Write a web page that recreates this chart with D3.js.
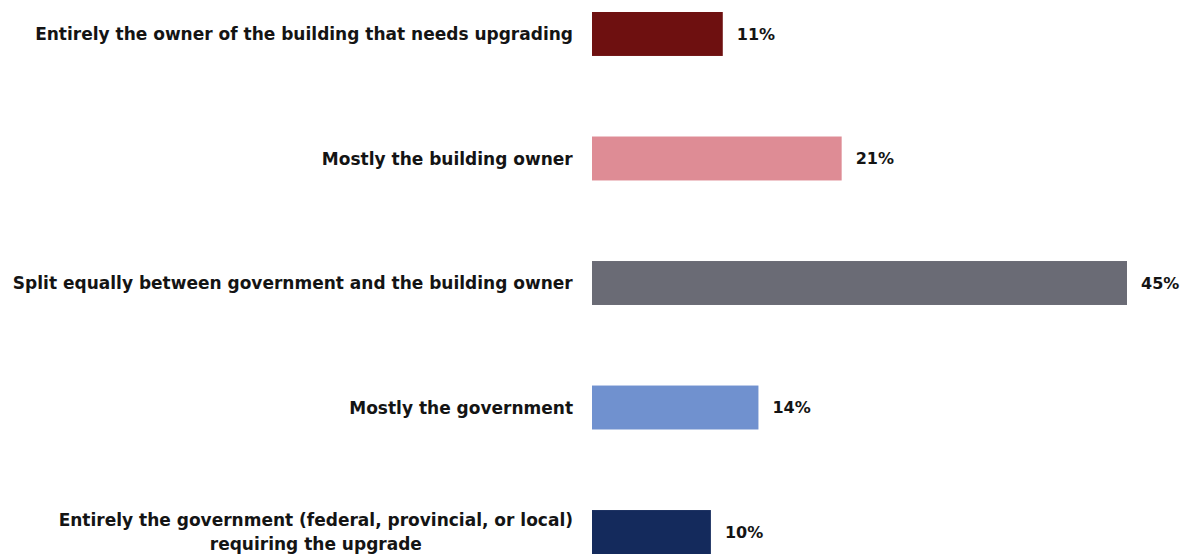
<!DOCTYPE html>
<html>
<head>
<meta charset="utf-8">
<script src="https://cdn.jsdelivr.net/npm/d3@7"></script>
<style>
  html, body { margin: 0; padding: 0; background: #ffffff; }
  svg { display: block; }
  .cat { font-family: "DejaVu Sans", sans-serif; font-weight: 700; fill: #141414; }
  .val { font-family: "DejaVu Sans", sans-serif; font-weight: 700; fill: #141414; }
</style>
</head>
<body>
<svg id="chart" width="1189" height="559"></svg>
<script>
// Who should pay for the building upgrade — share of responses
const categories = [
  ["Entirely the owner of the building that needs upgrading"],
  ["Mostly the building owner"],
  ["Split equally between government and the building owner"],
  ["Mostly the government"],
  ["Entirely the government (federal, provincial, or local)", "requiring the upgrade"]
];
const values = [11, 21, 45, 14, 10];
const valueLabels = ["11%", "21%", "45%", "14%", "10%"];
const colors = ["#6e1010", "#de8c95", "#6a6b75", "#7091cf", "#142a5c"];

const width = 1189, height = 559;
const barLeft = 592, barRight45 = 1127, labelRight = 573;

const svg = d3.select("#chart");

const x = d3.scaleLinear()
  .domain([0, 45])
  .range([barLeft, barRight45]);

const y = d3.scaleBand()
  .domain(d3.range(categories.length))
  .range([-0.45, 566.45])
  .paddingInner(0.647)
  .paddingOuter(0.1);

const g = svg.append("g");

g.selectAll("rect.bar")
  .data(values)
  .join("rect")
  .attr("class", "bar")
  .attr("x", x(0))
  .attr("y", (d, i) => y(i))
  .attr("width", d => x(d) - x(0))
  .attr("height", y.bandwidth())
  .attr("fill", (d, i) => colors[i]);

g.selectAll("text.val")
  .data(values)
  .join("text")
  .attr("class", "val")
  .attr("x", d => x(d) + 14)
  .attr("y", (d, i) => y(i) + y.bandwidth() / 2)
  .attr("dy", "0.36em")
  .attr("font-size", 16)
  .text((d, i) => valueLabels[i]);

const cat = g.selectAll("text.cat")
  .data(categories)
  .join("text")
  .attr("class", "cat")
  .attr("text-anchor", "middle")
  .attr("font-size", 17)
  .attr("y", (d, i) => y(i) + y.bandwidth() / 2);

cat.each(function(lines) {
  const t = d3.select(this);
  const n = lines.length;
  lines.forEach((line, k) => {
    t.append("tspan")
      .attr("x", 0)
      .attr("dy", k === 0 ? `${0.36 - (n - 1) * 0.7}em` : "1.4em")
      .text(line);
  });
});

// Right-align each label block against the bars; lines inside a block stay centred
cat.each(function() {
  const bb = this.getBBox();
  d3.select(this).attr("transform", `translate(${labelRight - bb.width / 2},0)`);
});
</script>
</body>
</html>
